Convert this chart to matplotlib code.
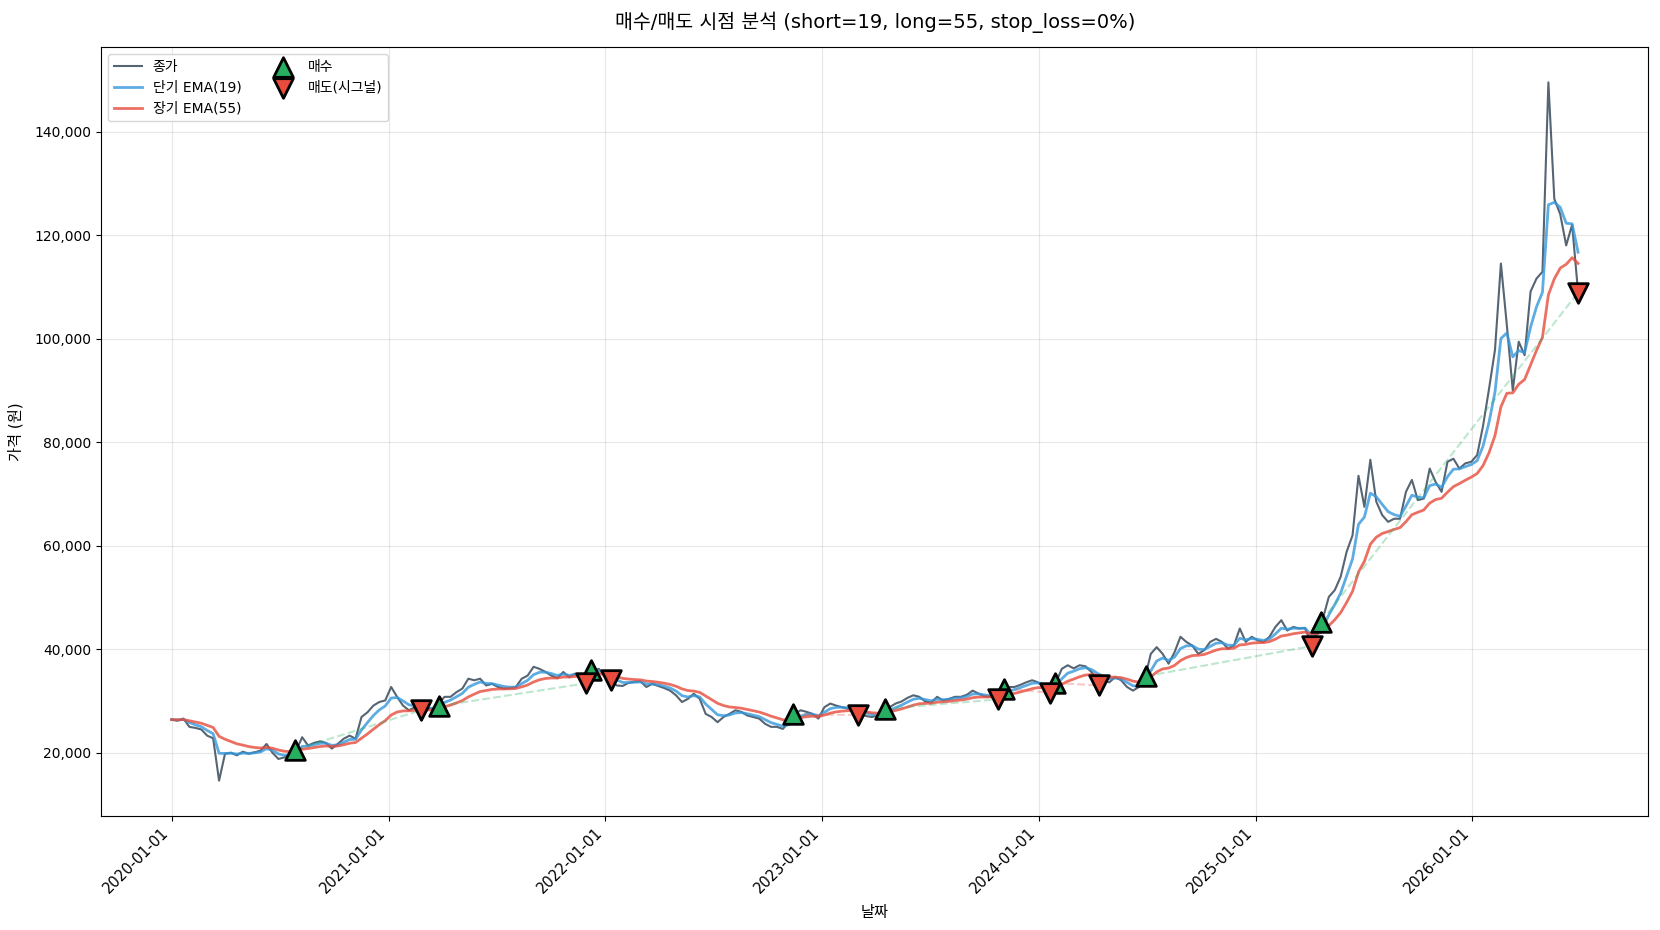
import numpy as np
import pandas as pd
import matplotlib
matplotlib.use('Agg')
import matplotlib.pyplot as plt
import matplotlib.dates as mdates
from matplotlib.ticker import FuncFormatter

# 라틴 글자는 DejaVu, 한글은 Noto CJK 로 대체
plt.rcParams['font.family'] = ['DejaVu Sans', 'Noto Sans CJK KR']
plt.rcParams['axes.unicode_minus'] = False

SHORT, LONG, STOP_LOSS = 19, 55, 0

# 종가 (천원), 2020-01-01 부터 10일 간격
start_date = '2020-01-01'
close_k = [
    26.4, 26.2, 26.6, 25.0, 24.8, 24.5, 23.3, 22.8, 14.6, 19.8,
    20.0, 19.5, 20.2, 19.8, 20.1, 20.4, 21.7, 20.0, 18.8, 19.1,
    19.8, 20.4, 23.0, 21.4, 21.9, 22.2, 21.9, 20.8, 21.7, 22.7,
    23.3, 22.7, 26.9, 27.8, 29.1, 29.8, 30.1, 32.7, 30.8, 29.1,
    28.2, 28.8, 28.2, 28.5, 28.5, 29.5, 30.8, 30.8, 31.7, 32.4,
    34.3, 34.0, 34.3, 33.0, 33.3, 32.7, 32.4, 32.5, 32.7, 34.3,
    34.9, 36.6, 36.2, 35.6, 34.9, 34.4, 35.6, 34.6, 35.3, 34.9,
    35.6, 35.9, 36.2, 34.9, 34.0, 33.0, 32.9, 33.5, 33.7, 33.8,
    32.7, 33.3, 32.9, 32.5, 32.0, 31.1, 29.8, 30.4, 31.4, 30.4,
    27.5, 26.9, 25.9, 26.9, 27.5, 28.2, 27.9, 27.2, 26.9, 26.6,
    25.6, 25.0, 25.0, 24.6, 25.9, 27.5, 28.2, 27.9, 27.5, 26.6,
    28.8, 29.5, 29.1, 28.8, 28.5, 28.4, 27.5, 27.1, 26.9, 27.2,
    28.2, 28.8, 29.5, 29.9, 30.6, 31.1, 30.8, 29.9, 29.7, 30.8,
    30.1, 30.4, 30.8, 30.8, 31.2, 32.0, 31.4, 30.9, 30.8, 30.6,
    31.7, 32.7, 32.7, 33.1, 33.6, 34.0, 33.6, 32.7, 31.5, 33.5,
    36.2, 36.9, 36.3, 36.9, 36.7, 35.6, 34.3, 34.0, 33.6, 34.6,
    34.0, 32.7, 32.0, 32.7, 34.3, 39.1, 40.4, 39.1, 37.2, 39.4,
    42.4, 41.4, 40.7, 39.1, 39.8, 41.4, 42.0, 41.4, 40.1, 40.7,
    44.0, 41.4, 42.4, 41.7, 41.4, 42.4, 44.3, 45.6, 43.6, 44.3,
    44.0, 44.1, 41.0, 43.0, 45.9, 50.1, 51.4, 54.0, 58.8, 62.0,
    73.5, 67.5, 76.6, 68.5, 65.9, 64.6, 65.2, 65.2, 70.4, 72.7,
    68.8, 69.1, 74.9, 72.3, 70.4, 76.2, 76.8, 74.9, 75.9, 76.2,
    77.5, 83.2, 90.3, 97.8, 114.5, 102.6, 90.0, 99.4, 96.8, 109.1,
    111.6, 112.9, 149.5, 127.0, 124.0, 118.0, 122.0, 109.0,
]

buy_dates = ['2020-07-27', '2021-03-26', '2021-12-08', '2022-11-13', '2023-04-17',
             '2023-11-04', '2024-01-29', '2024-06-30', '2025-04-21']
buy_prices_k = [20.6, 29.0, 36.0, 27.4, 28.5, 32.4, 33.5, 34.8, 45.3]

sell_dates = ['2021-02-24', '2021-11-29', '2022-01-11', '2023-03-02', '2023-10-24',
              '2024-01-20', '2024-04-11', '2025-04-05', '2026-06-28']
sell_prices_k = [28.2, 33.4, 34.1, 27.3, 30.3, 31.6, 33.0, 40.6, 108.9]

dates = pd.date_range(start_date, periods=len(close_k), freq='10D')
close = pd.Series(np.array(close_k) * 1000, index=dates)
# 10일 샘플 기준으로 span 환산
ema_s = close.ewm(span=SHORT / 5, adjust=False).mean()
ema_l = close.ewm(span=LONG / 5, adjust=False).mean()

buy_d = pd.to_datetime(buy_dates)
sell_d = pd.to_datetime(sell_dates)
buy_p = np.array(buy_prices_k) * 1000
sell_p = np.array(sell_prices_k) * 1000

fig, ax = plt.subplots(figsize=(16.6, 9.3), dpi=100)
fig.subplots_adjust(left=0.061, right=0.993, top=0.949, bottom=0.123)

ax.plot(dates, close, color='#2c3e50', lw=1.5, alpha=0.8, label='종가')
ax.plot(dates, ema_s, color='#3498db', lw=2, alpha=0.8, label=f'단기 EMA({SHORT})')
ax.plot(dates, ema_l, color='#e74c3c', lw=2, alpha=0.8, label=f'장기 EMA({LONG})')

for bd, bp, sd, sp in zip(buy_d, buy_p, sell_d, sell_p):
    c = '#27ae60' if sp > bp else '#e74c3c'
    ax.plot([bd, sd], [bp, sp], '--', color=c, alpha=0.3, lw=1.5)

ax.scatter(buy_d, buy_p, marker='^', s=200, color='#27ae60', edgecolors='black',
           linewidths=2, zorder=5, label='매수')
ax.scatter(sell_d, sell_p, marker='v', s=200, color='#e74c3c', edgecolors='black',
           linewidths=2, zorder=5, label='매도(시그널)')

ax.set_title(f'매수/매도 시점 분석 (short={SHORT}, long={LONG}, stop_loss={STOP_LOSS}%)',
             fontsize=14, pad=14)
ax.set_xlabel('날짜', fontsize=11, labelpad=6)
ax.set_ylabel('가격 (원)', fontsize=11, labelpad=8)
ax.xaxis.set_major_locator(mdates.YearLocator())
ax.xaxis.set_major_formatter(mdates.DateFormatter('%Y-%m-%d'))
plt.setp(ax.get_xticklabels(), rotation=45, ha='right', fontsize=10.5)
ax.yaxis.set_major_formatter(FuncFormatter(lambda v, p: f'{v:,.0f}'))
ax.grid(True, alpha=0.3)
ax.legend(loc='upper left', ncol=2, fontsize=10)

fig.savefig('out.png', dpi=100)
